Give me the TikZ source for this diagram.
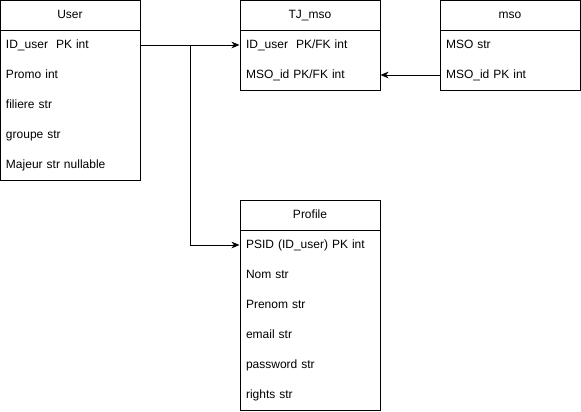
\documentclass[tikz,border=0pt]{standalone}
\usepackage{fontspec}
\setmainfont{Liberation Sans}
\usetikzlibrary{arrows.meta}
\begin{document}
\begin{tikzpicture}[x=0.75pt,y=-0.75pt,line width=0.75pt,
  font=\fontsize{9}{11}\selectfont,
  tbl/.style={draw,minimum width=105pt,inner sep=0pt},
  row/.style={text width=96pt,inner xsep=4.5pt,inner ysep=0pt,text height=6.8pt,text depth=2pt,align=left},
  ttl/.style={inner sep=0pt,text height=6.8pt,text depth=2pt},
  arr/.style={-{Stealth[length=6pt,width=5pt,inset=1.8pt]}}]
\useasboundingbox (0,0) rectangle (581,411);
% User
\node[tbl,minimum height=135pt] (user) at (70,90) {};
\draw (user.west |- 0,30) -- (user.east |- 0,30);
\node[ttl] (usert) at (70,15) {User};
\node[row] (uid) at (70,45) {ID\_user\ \ PK int};
\node[row] (upromo) at (70,75) {Promo int};
\node[row] (ufil) at (70,105) {filiere str};
\node[row] (ugrp) at (70,135) {groupe str};
\node[row] (umaj) at (70,165) {Majeur str nullable};
% TJ_mso
\node[tbl,minimum height=67.5pt] (tj) at (310,45) {};
\draw (tj.west |- 0,30) -- (tj.east |- 0,30);
\node[ttl] (tjt) at (310,15) {TJ\_mso};
\node[row] (tjid) at (310,45) {ID\_user\ \ PK/FK int};
\node[row] (tjmso) at (310,75) {MSO\_id PK/FK int};
% mso
\node[tbl,minimum height=67.5pt] (mso) at (510,45) {};
\draw (mso.west |- 0,30) -- (mso.east |- 0,30);
\node[ttl] (msot) at (510,15) {mso};
\node[row] (msostr) at (510,45) {MSO str};
\node[row] (msoid) at (510,75) {MSO\_id PK int};
% Profile
\node[tbl,minimum height=157.5pt] (prof) at (310,305) {};
\draw (prof.west |- 0,230) -- (prof.east |- 0,230);
\node[ttl] (proft) at (310,215) {Profile};
\node[row] (pid) at (310,245) {PSID (ID\_user) PK int};
\node[row] (pnom) at (310,275) {Nom str};
\node[row] (ppre) at (310,305) {Prenom str};
\node[row] (pmail) at (310,335) {email str};
\node[row] (ppw) at (310,365) {password str};
\node[row] (prights) at (310,395) {rights str};
% connectors
\coordinate (bend) at (190,45);
\draw[arr] (uid.east) -- (tjid.west);
\draw[arr] (uid.east) -- (bend) |- (pid.west);
\draw[arr] (msoid.west) -- (tjmso.east);
\end{tikzpicture}
\end{document}
